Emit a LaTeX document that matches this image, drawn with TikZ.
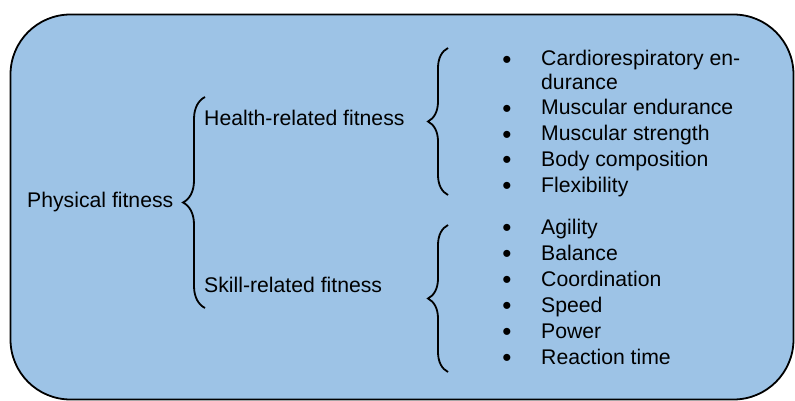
\documentclass[tikz,border=0pt]{standalone}
\usepackage{fontspec}
\setmainfont{Liberation Sans}
\usepackage{xcolor}
\usetikzlibrary{decorations.pathreplacing}
\definecolor{boxblue}{HTML}{9DC3E6}
\tikzset{
  txt/.style={anchor=base west, inner sep=0pt, font=\fontsize{21.2}{25}\selectfont},
  bul/.style={anchor=base, inner sep=0pt, font=\fontsize{26}{30}\selectfont},
  curly/.style={decorate, decoration={brace, amplitude=#1}, line width=1.8pt}
}
\begin{document}
\begin{tikzpicture}[x=1pt, y=-1pt]
    \useasboundingbox (0,0) rectangle (795,401);
    \draw[fill=boxblue, line width=1.8pt, rounded corners=60pt] (10.5,14.5) rectangle (793.5,399.5);
    \node[txt] (phys) at (27,207) {Physical fitness};
    \node[txt] (health) at (204,126) {Health-related fitness};
    \node[txt] (skill) at (204,292) {Skill-related fitness};
    \coordinate (maintop) at (205,97);
    \coordinate (mainbot) at (205,308);
    \coordinate (healthtop) at (448,48);
    \coordinate (healthbot) at (448,195);
    \coordinate (skilltop) at (448,225);
    \coordinate (skillbot) at (448,372);
    \draw[curly=22pt] (mainbot) -- (maintop);
    \draw[curly=20pt] (healthbot) -- (healthtop);
    \draw[curly=20pt] (skillbot) -- (skilltop);
    \foreach \y/\t [count=\i] in {66/Cardiorespiratory en-, 115/Muscular endurance, 141/Muscular strength, 166/Body composition, 192/Flexibility}{
        \node[bul] (hb\i) at (507,\y+2.5) {\textbullet};
        \node[txt] (h\i) at (541,\y) {\t};
    }
    \node[txt] (h1b) at (541,90) {durance};
    \foreach \y/\t [count=\i] in {234/Agility, 260/Balance, 286/Coordination, 312/Speed, 338/Power, 364/Reaction time}{
        \node[bul] (sb\i) at (507,\y+2.5) {\textbullet};
        \node[txt] (s\i) at (541,\y) {\t};
    }
\end{tikzpicture}
\end{document}
